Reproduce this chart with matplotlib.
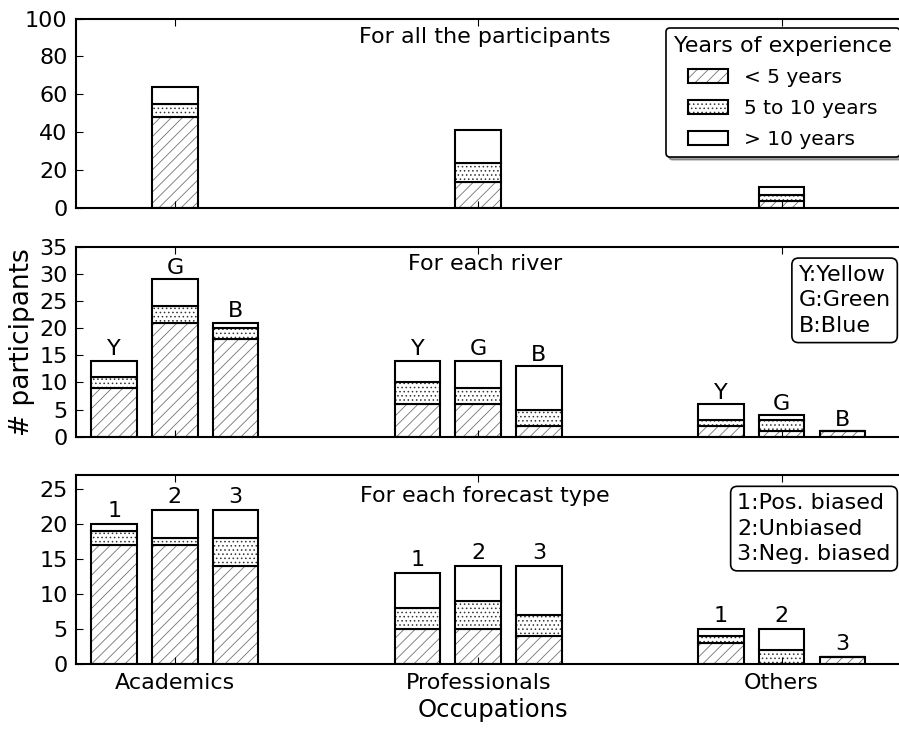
import numpy as np
import matplotlib
matplotlib.use('Agg')
import matplotlib.pyplot as plt
from matplotlib.patches import Patch

#Occupation groups and experience classes
occupations = ['Academics', 'Professionals', 'Others']
exp_labels = ['< 5 years', '5 to 10 years', '> 10 years']

#Panel 1: all participants
all_lt5 = [48, 14, 4]
all_5to10 = [7, 10, 3]
all_gt10 = [9, 17, 4]

#Panel 2: for each river (rows = occupation, cols = Y, G, B)
river_names = ['Y', 'G', 'B']
river_lt5 = [[9, 21, 18], [6, 6, 2], [2, 1, 1]]
river_5to10 = [[2, 3, 2], [4, 3, 3], [1, 2, 0]]
river_gt10 = [[3, 5, 1], [4, 5, 8], [3, 1, 0]]

#Panel 3: for each forecast type (cols = 1, 2, 3)
fc_names = ['1', '2', '3']
fc_lt5 = [[17, 17, 14], [5, 5, 4], [3, 0, 1]]
fc_5to10 = [[2, 1, 4], [3, 4, 3], [1, 2, 0]]
fc_gt10 = [[1, 4, 4], [5, 5, 7], [1, 3, 0]]

hatches = ['///', '....', '']
hatch_cols = ['0.45', '0.2', '0.45']
fs = 16
width = 0.75

plt.rcParams['font.family'] = 'DejaVu Sans'
plt.rcParams['hatch.linewidth'] = 0.6

fig = plt.figure(figsize=(8.99, 7.29), dpi=100)
left = 76 / 899.
axw = (909 - 76) / 899.
ax1 = fig.add_axes([left, 0.7143, axw, 0.2603])
ax2 = fig.add_axes([left, 0.4010, axw, 0.2606])
ax3 = fig.add_axes([left, 0.0888, axw, 0.2596])


def stacked(ax, x, layers):
    #draw a stack of segments: hatch first (grey), then black outline
    bottom = 0
    for h, hatch, hc in zip(layers, hatches, hatch_cols):
        ax.bar(x, h, width, bottom=bottom, color='white', edgecolor=hc,
               hatch=hatch, linewidth=0)
        ax.bar(x, h, width, bottom=bottom, fill=False, edgecolor='black',
               linewidth=1.5)
        bottom += h
    return bottom


#Group centres at 1, 6, 11
centres = np.arange(len(occupations)) * 5 + 1

for i, c in enumerate(centres):
    stacked(ax1, c, [all_lt5[i], all_5to10[i], all_gt10[i]])

for i, c in enumerate(centres):
    for j in range(3):
        x = c - 1 + j
        top = stacked(ax2, x, [river_lt5[i][j], river_5to10[i][j], river_gt10[i][j]])
        ax2.text(x, top + 1, river_names[j], ha='center', va='baseline', fontsize=fs)
        top = stacked(ax3, x, [fc_lt5[i][j], fc_5to10[i][j], fc_gt10[i][j]])
        ax3.text(x, top + 1, fc_names[j], ha='center', va='baseline', fontsize=fs)

ax1.set_ylim(0, 100)
ax1.set_yticks(np.arange(0, 101, 20))
ax2.set_ylim(0, 35)
ax2.set_yticks(np.arange(0, 36, 5))
ax3.set_ylim(0, 27)
ax3.set_yticks(np.arange(0, 26, 5))

for ax in [ax1, ax2, ax3]:
    ax.set_xlim(-0.63, 13.1)
    ax.set_xticks(centres)
    ax.tick_params(direction='in', length=5, width=0.8, top=True, right=True,
                   labelsize=fs, pad=6)
    for s in ax.spines.values():
        s.set_linewidth(1.5)
ax1.set_xticklabels([])
ax2.set_xticklabels([])
ax3.set_xticklabels(occupations)
ax3.set_xlabel('Occupations', fontsize=17.5, labelpad=4)

#Panel titles inside the axes
ax1.text(0.491, 0.87, 'For all the participants', transform=ax1.transAxes,
         ha='center', va='baseline', fontsize=fs)
ax2.text(0.491, 0.875, 'For each river', transform=ax2.transAxes,
         ha='center', va='baseline', fontsize=fs)
ax3.text(0.491, 0.855, 'For each forecast type', transform=ax3.transAxes,
         ha='center', va='baseline', fontsize=fs)

#Legend for experience classes
handles = []
for hatch, hc in zip(hatches, hatch_cols):
    handles.append((Patch(facecolor='white', edgecolor=hc, hatch=hatch, linewidth=0),
                    Patch(fill=False, edgecolor='black', linewidth=1.5)))
leg = ax1.legend(handles, exp_labels, title='Years of experience', loc='upper right',
                 fontsize=14.5, title_fontsize=fs, fancybox=True, shadow=True,
                 framealpha=1, borderaxespad=0.45, handlelength=2.0,
                 labelspacing=0.6)
leg.get_frame().set_edgecolor('black')
leg.get_frame().set_linewidth(1.2)

#Key boxes
box = dict(boxstyle='round', facecolor='white', edgecolor='black', linewidth=1.2)
ax2.text(0.978, 0.905, 'Y:Yellow\nG:Green\nB:Blue', transform=ax2.transAxes,
         ha='right', va='top', multialignment='left', linespacing=1.35,
         fontsize=fs, bbox=box)
ax3.text(0.978, 0.905, '1:Pos. biased\n2:Unbiased\n3:Neg. biased', transform=ax3.transAxes,
         ha='right', va='top', multialignment='left', linespacing=1.35,
         fontsize=fs, bbox=box)

fig.text(0.025, 0.531, '# participants', rotation=90, ha='center', va='center', fontsize=19)

fig.savefig('out.png', dpi=100)
